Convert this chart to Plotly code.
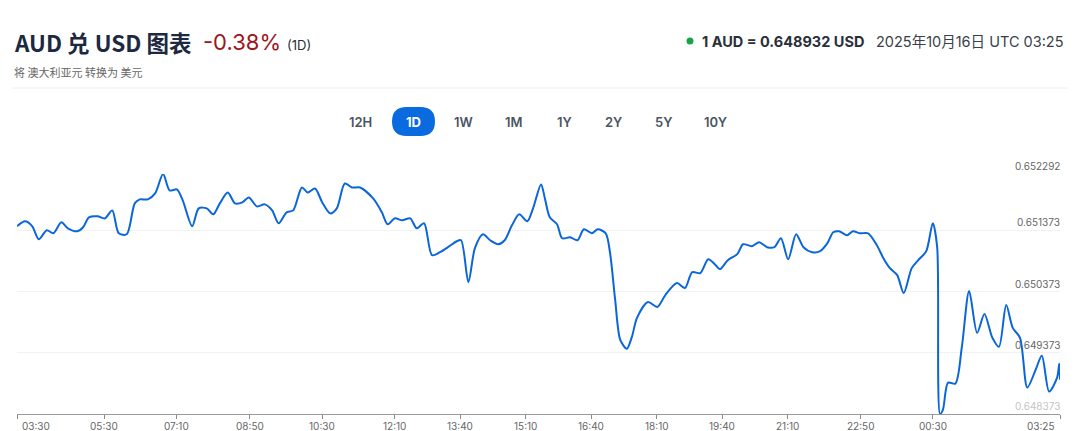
import plotly.graph_objects as go
from datetime import datetime, timedelta

# ---------------- data ----------------
times = ["03:30","03:41","03:51","04:00","04:11","04:20","04:31","04:40","04:53","05:01",
         "05:09","05:21","05:31","05:41","05:50","06:01","06:12","06:19","06:30","06:40",
         "06:51","07:00","07:10","07:18","07:31","07:40","07:51","08:00","08:09","08:20",
         "08:30","08:40","08:49","09:00","09:11","09:21","09:30","09:41","09:50","10:02",
         "10:10","10:20","10:30","10:41","10:50","11:01","11:11","11:22","11:40","11:52",
         "12:00","12:10","12:20","12:31","12:40","12:50","13:01","13:12","13:23","13:35",
         "13:41","13:51","14:00","14:11","14:21","14:32","14:41","14:51","15:01","15:12",
         "15:20","15:31","15:36","15:43","15:53","16:00","16:11","16:21","16:30","16:41",
         "16:49","17:00","17:06","17:13","17:20","17:29","17:36","17:43","17:58","18:11",
         "18:22","18:38","18:49","18:59","19:10","19:21","19:30","19:37","19:48","20:01",
         "20:09","20:21","20:31","20:42","20:52","21:01","21:11","21:22","21:32","21:44",
         "21:55","22:05","22:13","22:21","22:32","22:40","22:50","23:01","23:13","23:22",
         "23:31","23:41","23:50","00:01","00:10","00:21","00:30","00:36","00:40","00:44",
         "00:51","01:01","01:10","01:20","01:31","01:41","01:52","02:01","02:11","02:20",
         "02:30","02:40","02:51","03:00","03:10","03:21","03:24","03:25"]

rates = [0.651438,0.651519,0.651438,0.651227,0.651373,0.651324,0.651503,0.651405,0.651357,0.651422,
         0.651584,0.651601,0.651568,0.651698,0.651324,0.651308,0.651812,0.651877,0.651877,0.651975,
         0.652292,0.652023,0.652040,0.651861,0.651438,0.651731,0.651731,0.651633,0.651812,0.651991,
         0.651812,0.651828,0.651910,0.651763,0.651796,0.651698,0.651487,0.651666,0.651698,0.652072,
         0.651991,0.652056,0.651828,0.651649,0.651731,0.652137,0.652072,0.652072,0.651893,0.651666,
         0.651471,0.651568,0.651536,0.651568,0.651405,0.651487,0.650966,0.651015,0.651097,0.651194,
         0.651210,0.650527,0.651080,0.651308,0.651210,0.651145,0.651210,0.651454,0.651633,0.651519,
         0.651731,0.652121,0.651910,0.651584,0.651471,0.651243,0.651259,0.651210,0.651389,0.651324,
         0.651389,0.651324,0.650999,0.650235,0.649584,0.649438,0.649633,0.649942,0.650202,0.650121,
         0.650316,0.650511,0.650430,0.650690,0.650674,0.650901,0.650820,0.650739,0.650885,0.650983,
         0.651145,0.651113,0.651178,0.651097,0.651097,0.651243,0.650901,0.651308,0.651097,0.651015,
         0.651032,0.651162,0.651340,0.651357,0.651292,0.651357,0.651324,0.651324,0.651129,0.650918,
         0.650755,0.650641,0.650349,0.650755,0.650885,0.651032,0.651487,0.651097,0.648373,0.648446,
         0.648885,0.648869,0.649471,0.650381,0.649698,0.650007,0.649617,0.649471,0.650153,0.649779,
         0.649617,0.648804,0.649080,0.649324,0.648739,0.648966,0.649194,0.648932]

x_tick_labels = ["03:30","05:30","07:10","08:50","10:30","12:10","13:40","15:10",
                 "16:40","18:10","19:40","21:10","22:50","00:30","03:25"]
y_tick_values = [0.648373, 0.649373, 0.650373, 0.651373, 0.652292]
y_tick_labels = ["0.648373", "0.649373", "0.650373", "0.651373", "0.652292"]
ranges = ["12H", "1D", "1W", "1M", "1Y", "2Y", "5Y", "10Y"]

# ---------------- build datetimes (roll over midnight) ----------------
def to_dt(labels, start_day=datetime(2025, 10, 15)):
    out, day, prev = [], start_day, None
    for s in labels:
        h, m = map(int, s.split(":"))
        t = day.replace(hour=h, minute=m)
        if prev is not None and t < prev:
            day = day + timedelta(days=1)
            t = day.replace(hour=h, minute=m)
        out.append(t)
        prev = t
    return out

xs = to_dt(times)
tick_x = to_dt(x_tick_labels)

# ---------------- layout geometry ----------------
W, H = 1080, 431
ML, MR, MT, MB = 17, 20, 174, 17
PW, PH = W - ML - MR, H - MT - MB

def px(x):
    return (x - ML) / PW

def py(y):
    return (H - MB - y) / PH

FONT = "Inter, 'Noto Sans CJK SC', 'Noto Sans', sans-serif"
CJK = "'Noto Sans CJK SC', Inter, sans-serif"

fig = go.Figure()
fig.add_trace(go.Scatter(
    x=xs, y=rates, mode="lines",
    line=dict(color="#0a66d9", width=2, shape="spline", smoothing=0.8),
    hoverinfo="skip", showlegend=False,
))

annotations = []
shapes = []

# header
annotations.append(dict(text="<b>AUD 兑 USD 图表</b>", x=px(12), y=py(42), xref="paper", yref="paper",
                        xanchor="left", yanchor="middle", showarrow=False,
                        font=dict(family=CJK, size=22.5, color="#1c2940")))
annotations.append(dict(text="-0.38%", x=px(201), y=py(42), xref="paper", yref="paper",
                        xanchor="left", yanchor="middle", showarrow=False,
                        font=dict(family=FONT, size=22, color="#9c1620")))
annotations.append(dict(text="(1D)", x=px(285), y=py(45), xref="paper", yref="paper",
                        xanchor="left", yanchor="middle", showarrow=False,
                        font=dict(family=FONT, size=13, color="#2a2f3a")))
annotations.append(dict(text="将 澳大利亚元 转换为 美元", x=px(12), y=py(72), xref="paper", yref="paper",
                        xanchor="left", yanchor="middle", showarrow=False,
                        font=dict(family=CJK, size=11, color="#666666")))
annotations.append(dict(text="<b>1 AUD = 0.648932 USD</b>", x=px(700), y=py(41), xref="paper", yref="paper",
                        xanchor="left", yanchor="middle", showarrow=False,
                        font=dict(family=FONT, size=14.5, color="#2a2f3a")))
annotations.append(dict(text="2025年10月16日 UTC 03:25", x=px(1066), y=py(41), xref="paper", yref="paper",
                        xanchor="right", yanchor="middle", showarrow=False,
                        font=dict(family=FONT, size=14.5, color="#3a3f4a")))

shapes.append(dict(type="circle", xref="paper", yref="paper",
                   x0=px(686.5), x1=px(693.5), y0=py(44.5), y1=py(37.5),
                   fillcolor="#16a34a", line=dict(width=0)))
shapes.append(dict(type="line", xref="paper", yref="paper",
                   x0=px(12), x1=px(1068), y0=py(88), y1=py(88),
                   line=dict(color="#eceef2", width=1)))

# range buttons
btn_centers = [360, 413, 463, 514, 564, 613, 663, 715]
x0, x1, y0, y1, r = 392, 435, 107, 136, 14.5
def P(x, y):
    return f"{px(x):.6f},{py(y):.6f}"
path = (f"M {P(x0 + r, y0)} L {P(x1 - r, y0)} Q {P(x1, y0)} {P(x1, y0 + r)} "
        f"Q {P(x1, y1)} {P(x1 - r, y1)} L {P(x0 + r, y1)} Q {P(x0, y1)} {P(x0, y1 - r)} "
        f"Q {P(x0, y0)} {P(x0 + r, y0)} Z")
shapes.append(dict(type="path", xref="paper", yref="paper", path=path,
                   fillcolor="#0a6adf", line=dict(width=0)))
for lab, cx in zip(ranges, btn_centers):
    sel = lab == "1D"
    annotations.append(dict(text=f"<b>{lab}</b>" if sel else lab, x=px(cx), y=py(122),
                            xref="paper", yref="paper", xanchor="center", yanchor="middle",
                            showarrow=False,
                            font=dict(family=FONT, size=13, color="#ffffff" if sel else "#4b5563",
                                      weight=700 if sel else 600)))

# x tick labels
n = len(x_tick_labels)
for i, (lab, tx) in enumerate(zip(x_tick_labels, tick_x)):
    if i == 0:
        anchor, shift = "left", 3
    elif i == n - 1:
        anchor, shift = "right", -3
    else:
        anchor, shift = "center", 0
    annotations.append(dict(text=lab, x=tx, y=py(426), xref="x", yref="paper",
                            xanchor=anchor, yanchor="middle", xshift=shift, showarrow=False,
                            font=dict(family=FONT, size=10, color="#666666")))

# y tick labels
for v, lab in zip(y_tick_values, y_tick_labels):
    annotations.append(dict(text=lab, x=px(1062), y=v, xref="paper", yref="y",
                            xanchor="right", yanchor="bottom", yshift=0, showarrow=False,
                            font=dict(family=FONT, size=10,
                                      color="#c4c4c4" if v == y_tick_values[0] else "#666666")))

fig.update_layout(
    width=W, height=H,
    margin=dict(l=ML, r=MR, t=MT, b=MB, pad=0),
    paper_bgcolor="white", plot_bgcolor="white",
    showlegend=False,
    annotations=annotations, shapes=shapes,
    xaxis=dict(range=[tick_x[0], tick_x[-1]], tickvals=tick_x, showticklabels=False,
               ticks="outside", ticklen=4, tickcolor="#8a8a8a", tickwidth=1,
               showline=True, linecolor="#9a9a9a", linewidth=1, showgrid=False, zeroline=False,
               fixedrange=True),
    yaxis=dict(range=[y_tick_values[0], y_tick_values[-1]], tickvals=y_tick_values[1:],
               showticklabels=False, showgrid=True, gridcolor="#f2f2f2", gridwidth=1,
               zeroline=False, showline=False, fixedrange=True),
)

fig.write_html("out.html", config={"displayModeBar": False})
